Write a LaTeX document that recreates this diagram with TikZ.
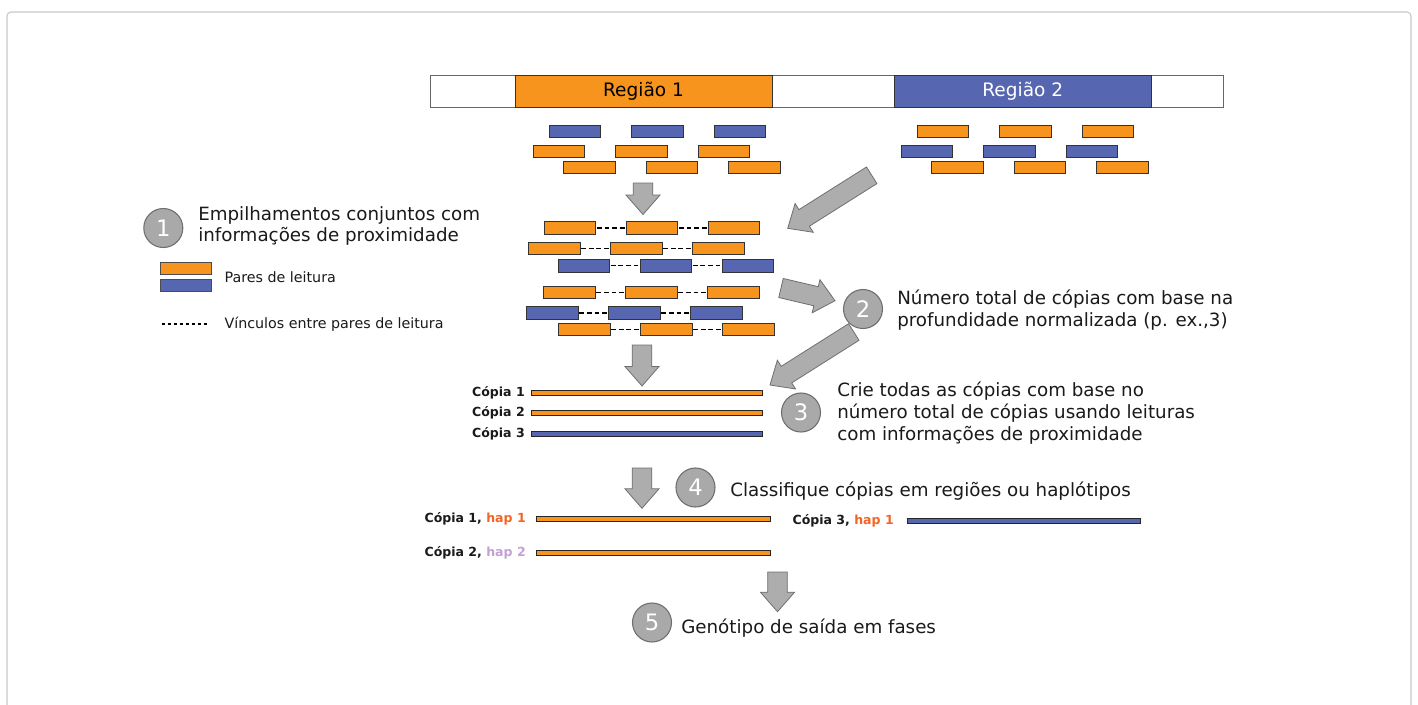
\documentclass[tikz,border=0pt]{standalone}
\usepackage{fontspec}
\setmainfont{DejaVu Sans}
\usetikzlibrary{calc}
\definecolor{myorange}{HTML}{F7941E}
\definecolor{myblue}{HTML}{5766B0}
\definecolor{arrgray}{HTML}{ADADAD}
\definecolor{arredge}{HTML}{6F6F6F}
\definecolor{circgray}{HTML}{A9A9A9}
\definecolor{circedge}{HTML}{6E6E6E}
\definecolor{hapone}{HTML}{F26522}
\definecolor{haptwo}{HTML}{C3A1D6}
\definecolor{framegray}{HTML}{C8C8C8}
\definecolor{txt}{HTML}{1A1A1A}
\newcommand\blockarrow[2]{%
  \coordinate (ba-n) at ($(#2)!14.6pt!(#1)$);
  \draw[blockarr] ($(#1)!7.35pt!90:(#2)$) -- ($(ba-n)!7.35pt!90:(#2)$) -- ($(ba-n)!12.75pt!90:(#2)$) -- (#2) -- ($(ba-n)!12.75pt!-90:(#2)$) -- ($(ba-n)!7.35pt!-90:(#2)$) -- ($(#1)!7.35pt!-90:(#2)$) -- cycle;}
\begin{document}
\begin{tikzpicture}[x=0.75pt,y=-0.75pt,
  read/.style={draw=black!80, line width=0.6pt, minimum width=38.6pt, minimum height=9.5pt, inner sep=0pt},
  oread/.style={read, fill=myorange},
  bread/.style={read, fill=myblue},
  link/.style={dash pattern=on 3.6pt off 2.1pt, dash phase=-0.6pt, line width=1pt, black},
  legbox/.style={draw=black!70, line width=0.6pt, minimum width=38.25pt, minimum height=9pt, inner sep=0pt},
  legtext/.style={anchor=west, inner sep=0pt, text=txt, font=\fontsize{10.7}{12}\selectfont},
  regbox/.style={draw=black!80, line width=0.7pt, minimum height=24pt, inner sep=0pt, font=\fontsize{13.9}{16}\selectfont},
  stepcirc/.style={circle, fill=circgray, draw=circedge, line width=0.8pt, minimum size=29.25pt, inner sep=0pt, text=white, font=\fontsize{17}{17}\selectfont},
  steptext/.style={anchor=west, align=left, inner sep=0pt, text=txt, font=\fontsize{13.7}{16.3}\selectfont},
  cline/.style={draw=black!85, line width=0.5pt, minimum height=3.75pt, inner sep=0pt},
  copylab/.style={anchor=east, inner sep=0pt, text=txt, font=\bfseries\fontsize{9.4}{11}\selectfont},
  blockarr/.style={fill=arrgray, draw=arredge, line width=0.6pt, line join=miter}
]
\useasboundingbox (0,0) rectangle (1418,704);
\fill[white] (0,0) rectangle (1418,704);
\draw[framegray, line width=0.8pt, rounded corners=3pt] (7,712) -- (7,12) -- (1411,12) -- (1411,712);

% chromosome bar
\draw[draw=black!60, line width=0.7pt, fill=white] (430.5,75) rectangle (1223,107);
\node[regbox, fill=myorange, minimum width=192.75pt] (reg1) at (643.5,91) {Região 1};
\node[regbox, fill=myblue, minimum width=193.1pt, text=white] (reg2) at (1022.75,91) {Região 2};

% reads under regions
\foreach \y/\sa/\sb/\x [count=\r] in {131.4/bread/oread/575, 151.4/oread/bread/559, 167.4/oread/oread/589.5}{
  \foreach \k in {0,1,2}{
    \node[\sa] (ra\r\k) at ({\x+82.5*\k},\y) {};
    \node[\sb] (rb\r\k) at ({\x+368+82.5*\k},\y) {};
  }
}

% joint pileups
\foreach \y/\s/\x [count=\r] in {228/oread/570, 248.5/oread/554.3, 265.7/bread/583.8, 292.3/oread/569.5, 313/bread/552.5, 329.3/oread/584.2}{
  \node[\s] (s\r-0) at (\x,\y) {};
  \node[\s] (s\r-1) at ({\x+82},\y) {};
  \node[\s] (s\r-2) at ({\x+164},\y) {};
  \draw[link] (s\r-0.east) -- (s\r-1.west);
  \draw[link] (s\r-1.east) -- (s\r-2.west);
}

% legend
\node[legbox, fill=myorange] (lego) at (186.2,268.3) {};
\node[legbox, fill=myblue] (legb) at (186.2,285.3) {};
\node[legtext] (legt1) at (224.3,276.7) {Pares de leitura};
\coordinate (lda) at (161.7,324);
\coordinate (ldb) at (208.3,324);
\draw[link, dash pattern=on 2.8pt off 1.7pt, dash phase=0pt, line width=0.9pt] (lda) -- (ldb);
\node[legtext] (legt2) at (224.3,324) {Vínculos entre pares de leitura};

% steps
\node[stepcirc] (c1) at (163.3,228) {1};
\node[steptext] (t1) at (198,226) {Empilhamentos conjuntos com\\informações de proximidade};
\node[stepcirc] (c2) at (863,309) {2};
\node[steptext] (t2) at (897,310) {Número total de cópias com base na\\profundidade normalizada (p. ex.,3)};
\node[stepcirc] (c3) at (801,412.5) {3};
\node[steptext] (t3) at (837,413) {Crie todas as cópias com base no\\número total de cópias usando leituras\\com informações de proximidade};
\node[stepcirc] (c4) at (695.5,487.5) {4};
\node[steptext, anchor=base west] (t4) at (730,496.5) {Classifique cópias em regiões ou haplótipos};
\node[stepcirc] (c5) at (652,622.5) {5};
\node[steptext, anchor=base west] (t5) at (681,633) {Genótipo de saída em fases};

% copies
\node[cline, fill=myorange, minimum width=173.8pt] (cp1) at (646.85,392.5) {};
\node[cline, fill=myorange, minimum width=173.8pt] (cp2) at (646.85,413.2) {};
\node[cline, fill=myblue, minimum width=173.8pt] (cp3) at (646.85,434.2) {};
\node[copylab] (cp1l) at (525,392.5) {Cópia 1};
\node[copylab] (cp2l) at (525,413.2) {Cópia 2};
\node[copylab] (cp3l) at (525,434.2) {Cópia 3};

% classified copies
\node[cline, fill=myorange, minimum width=175.5pt] (h1) at (653,519.2) {};
\node[cline, fill=myorange, minimum width=175.5pt] (h2) at (653,552.5) {};
\node[cline, fill=myblue, minimum width=174.4pt] (h3) at (1023.75,520.8) {};
\node[copylab] (h1l) at (526,519.2) {Cópia 1, \textcolor{hapone}{hap 1}};
\node[copylab] (h2l) at (526,552.5) {Cópia 2, \textcolor{haptwo}{hap 2}};
\node[copylab] (h3l) at (894,520.8) {Cópia 3, \textcolor{hapone}{hap 1}};

% block arrows
\coordinate (a1t) at (643,183);   \coordinate (a1h) at (643,214.5);
\coordinate (a2t) at (871.7,175.3); \coordinate (a2h) at (787.7,228.3);
\coordinate (a3t) at (781,288);   \coordinate (a3h) at (835,300.7);
\coordinate (a4t) at (642,345);   \coordinate (a4h) at (642,386);
\coordinate (a5t) at (853.8,332); \coordinate (a5h) at (770,385);
\coordinate (a6t) at (642,468);   \coordinate (a6h) at (642,508.3);
\coordinate (a7t) at (777.5,572); \coordinate (a7h) at (777.5,611.7);
\blockarrow{a1t}{a1h}
\blockarrow{a2t}{a2h}
\blockarrow{a3t}{a3h}
\blockarrow{a4t}{a4h}
\blockarrow{a5t}{a5h}
\blockarrow{a6t}{a6h}
\blockarrow{a7t}{a7h}
\end{tikzpicture}
\end{document}
